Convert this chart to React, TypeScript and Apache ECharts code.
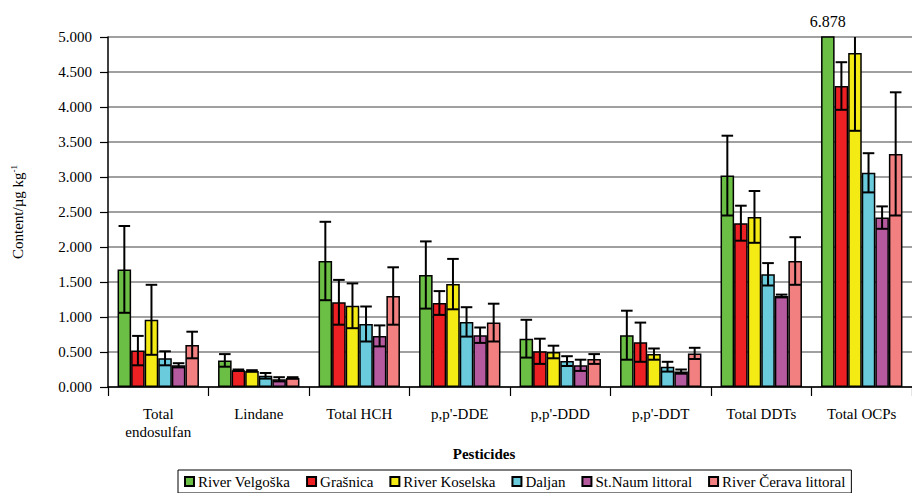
import React, { useEffect, useRef } from "react";
import * as echarts from "echarts";

const categories = [
  "Total\nendosulfan",
  "Lindane",
  "Total HCH",
  "p,p'-DDE",
  "p,p'-DDD",
  "p,p'-DDT",
  "Total DDTs",
  "Total OCPs",
];

const seriesNames = [
  "River Velgoška",
  "Grašnica",
  "River Koselska",
  "Daljan",
  "St.Naum littoral",
  "River Čerava littoral",
];

const seriesColors = ["#6cbf45", "#ed2024", "#f4ea14", "#69cbdc", "#b65aa0", "#f28080"];

const velgoska = [1.68, 0.38, 1.8, 1.6, 0.69, 0.74, 3.02, 6.878];
const velgoskaErr = [0.62, 0.09, 0.56, 0.48, 0.27, 0.35, 0.57, null];
const grasnica = [0.52, 0.24, 1.21, 1.2, 0.51, 0.64, 2.34, 4.3];
const grasnicaErr = [0.21, 0.01, 0.32, 0.17, 0.18, 0.28, 0.25, 0.34];
const koselska = [0.96, 0.23, 1.16, 1.47, 0.5, 0.47, 2.43, 4.77];
const koselskaErr = [0.5, 0.01, 0.32, 0.36, 0.09, 0.08, 0.37, 1.11];
const daljan = [0.41, 0.16, 0.9, 0.93, 0.37, 0.29, 1.61, 3.06];
const daljanErr = [0.1, 0.04, 0.25, 0.21, 0.07, 0.07, 0.16, 0.28];
const naum = [0.31, 0.11, 0.73, 0.74, 0.31, 0.22, 1.3, 2.42];
const naumErr = [0.03, 0.03, 0.15, 0.11, 0.08, 0.03, 0.02, 0.16];
const cerava = [0.6, 0.13, 1.3, 0.92, 0.4, 0.48, 1.8, 3.33];
const ceravaErr = [0.19, 0.01, 0.41, 0.27, 0.07, 0.08, 0.34, 0.88];

const yMin = 0;
const yMax = 5;
const yInterval = 0.5;

const FONT = "Liberation Serif";
const CAT_GAP = 0.19;

export default function App() {
  const ref = useRef<HTMLDivElement>(null);

  useEffect(() => {
    if (!ref.current) return;
    const chart = echarts.init(ref.current, undefined, { renderer: "svg" });

    const values = [velgoska, grasnica, koselska, daljan, naum, cerava];
    const errors = [velgoskaErr, grasnicaErr, koselskaErr, daljanErr, naumErr, ceravaErr];
    const n = values.length;

    const barSeries = values.map((vals, k) => ({
      type: "bar",
      name: seriesNames[k],
      data: vals,
      barGap: "0%",
      barCategoryGap: CAT_GAP * 100 + "%",
      itemStyle: { color: seriesColors[k], borderColor: "#000", borderWidth: 1.5 },
      clip: true,
    }));

    const errSeries = errors.map((errs, k) => ({
      type: "custom",
      clip: true,
      z: 3,
      data: errs
        .map((e, i) => (e == null ? null : [i, values[k][i], e]))
        .filter((d) => d != null),
      renderItem: (params: any, api: any) => {
        const i = api.value(0);
        const v = api.value(1);
        const e = api.value(2);
        const bandW = api.size([1, 0])[0];
        const barW = (bandW * (1 - CAT_GAP)) / n;
        const cx = api.coord([i, 0])[0] + (k - (n - 1) / 2) * barW;
        const yTop = api.coord([i, v + e])[1];
        const yBot = api.coord([i, v - e])[1];
        const half = barW / 2 - 1;
        const st = { stroke: "#000", lineWidth: 2 };
        return {
          type: "group",
          children: [
            { type: "line", shape: { x1: cx, y1: yTop, x2: cx, y2: yBot }, style: st },
            { type: "line", shape: { x1: cx - half, y1: yTop, x2: cx + half, y2: yTop }, style: st },
            { type: "line", shape: { x1: cx - half, y1: yBot, x2: cx + half, y2: yBot }, style: st },
          ],
        };
      },
    }));

    // labels for values that exceed the axis maximum
    const overflowSeries = values.map((vals, k) => ({
      type: "custom",
      clip: false,
      z: 4,
      data: vals
        .map((v, i) => (v > yMax ? [i, v] : null))
        .filter((d) => d != null),
      renderItem: (params: any, api: any) => {
        const i = api.value(0);
        const v = api.value(1);
        const bandW = api.size([1, 0])[0];
        const barW = (bandW * (1 - CAT_GAP)) / n;
        const cx = api.coord([i, 0])[0] + (k - (n - 1) / 2) * barW;
        const y = api.coord([i, yMax])[1];
        return {
          type: "text",
          x: cx,
          y: y - 16,
          style: {
            text: v.toFixed(3),
            align: "center",
            verticalAlign: "middle",
            fontSize: 16,
            fontFamily: FONT,
            fill: "#000",
          },
        };
      },
    }));

    chart.setOption({
      animation: false,
      backgroundColor: "#fff",
      grid: { left: 108, top: 37, width: 816, height: 350, containLabel: false },
      legend: {
        data: seriesNames,
        left: 178,
        top: 470,
        orient: "horizontal",
        borderColor: "#000",
        borderWidth: 1,
        padding: [4, 6, 4, 6],
        itemWidth: 9,
        itemHeight: 9,
        itemGap: 16,
        icon: "rect",
        textStyle: { fontSize: 15, fontFamily: FONT, color: "#000", padding: [0, 0, 0, -1] },
      },
      xAxis: {
        type: "category",
        data: categories,
        name: "Pesticides",
        nameLocation: "middle",
        nameGap: 59,
        nameTextStyle: {
          fontSize: 15,
          fontWeight: "bold",
          fontFamily: FONT,
          color: "#000",
          padding: [0, 52, 0, 0],
        },
        axisLine: { lineStyle: { color: "#000", width: 1.5 } },
        axisTick: { show: true, length: 9, lineStyle: { color: "#000", width: 1.2 } },
        axisLabel: {
          interval: 0,
          fontSize: 15,
          lineHeight: 18,
          margin: 18,
          fontFamily: FONT,
          color: "#000",
        },
      },
      yAxis: {
        type: "value",
        min: yMin,
        max: yMax,
        interval: yInterval,
        name: "{n|Content/µg kg}{s|-1}",
        nameLocation: "middle",
        nameGap: 82,
        nameTextStyle: {
          color: "#000",
          rich: {
            n: { fontSize: 15, fontFamily: FONT, color: "#000", lineHeight: 17 },
            s: { fontSize: 9, fontFamily: FONT, color: "#000", verticalAlign: "top", lineHeight: 10 },
          },
        },
        axisLine: { show: true, lineStyle: { color: "#000", width: 1.5 } },
        axisTick: { show: true, length: 8, lineStyle: { color: "#000", width: 1.2 } },
        axisLabel: {
          fontSize: 15,
          margin: 16,
          fontFamily: FONT,
          color: "#000",
          formatter: (v: number) => v.toFixed(3),
        },
        splitLine: { show: true, lineStyle: { color: "#808080", width: 1.6 } },
      },
      series: [...barSeries, ...errSeries, ...overflowSeries],
    });

    return () => chart.dispose();
  }, []);

  return (
    <div
      ref={ref}
      style={{ position: "fixed", left: 0, top: 0, width: 912, height: 493, background: "#fff" }}
    />
  );
}
